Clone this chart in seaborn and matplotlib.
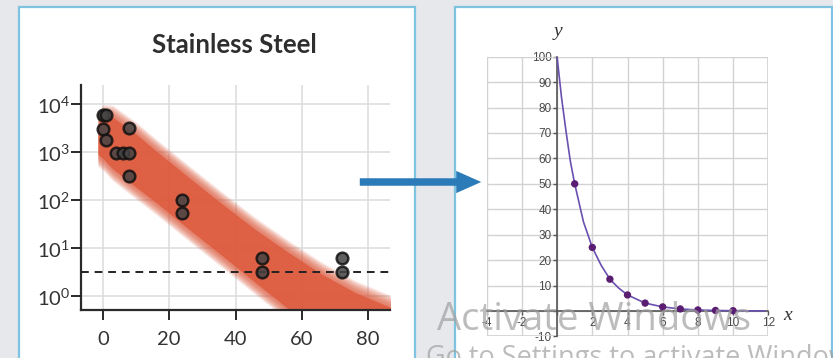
# Two-panel slide: stainless steel decay band (log scale) -> exponential decay on a grid

import numpy as np
import pandas as pd
import matplotlib.pyplot as plt
import seaborn as sns
from matplotlib.patches import Rectangle, FancyArrowPatch
from matplotlib.ticker import FixedLocator, NullLocator, FixedFormatter

# ---- left panel data ----
steel_x = [0, 1, 0, 1, 4, 6, 8, 8, 8, 24, 24, 48, 48, 72, 72]
steel_y = [5900, 5900, 3100, 1800, 980, 980, 980, 3200, 320, 100, 55, 6.1, 3.2, 6.1, 3.2]
threshold = 3.2

# edges of the red model band, as log10 values
band_x = [-1.5, 0, 3, 10, 16, 26, 36, 46, 56, 66, 76, 87]
band_hi_exp = [3.62, 3.80, 3.78, 3.43, 3.08, 2.52, 1.97, 1.44, 0.96, 0.51, 0.13, -0.19]
band_lo_exp = [2.90, 2.82, 2.60, 2.22, 1.90, 1.34, 0.79, 0.23, -0.32, -0.87, -1.42, -2.0]

steel_xticks = [0, 20, 40, 60, 80]
steel_yticks = [1, 10, 100, 1000, 10000]
steel_ylabels = ["10$^{0}$", "10$^{1}$", "10$^{2}$", "10$^{3}$", "10$^{4}$"]

# ---- right panel data ----
dot_x = [1, 2, 3, 4, 5, 6, 7, 8, 9, 10]
dot_y = [50, 25, 12.5, 6.3, 3.1, 1.6, 0.8, 0.4, 0.2, 0.1]
curve_x = [0, 0.25, 0.5, 0.75, 1, 1.5, 2, 2.5, 3, 3.5, 4, 5, 6, 7, 8, 9, 10, 11, 11.8]
curve_y = [100, 84, 71, 59, 50, 35, 25, 18, 12.5, 9, 6.3, 3.1, 1.6, 0.8, 0.4, 0.2, 0.1, 0.05, 0.03]

grid_xticks = [-4, -2, 0, 2, 4, 6, 8, 10, 12]
grid_xlabels = ["-4", "-2", "", "2", "4", "6", "8", "10", "12"]
grid_yticks = [-10, 0, 10, 20, 30, 40, 50, 60, 70, 80, 90, 100]
grid_ylabels = ["-10", "", "10", "20", "30", "40", "50", "60", "70", "80", "90", "100"]

sns.set_theme(style="white")
plt.rcParams["font.family"] = ["Lato", "DejaVu Sans"]
plt.rcParams["mathtext.fontset"] = "custom"
plt.rcParams["mathtext.rm"] = "Lato"

W, H = 833, 358
fig = plt.figure(figsize=(W / 100, H / 100), dpi=100)
fig.patch.set_facecolor("#e6e8eb")


def px_rect(x0, y0, x1, y1):
    # pixel box (top-left origin) -> figure fraction rect
    return [x0 / W, 1 - y1 / H, (x1 - x0) / W, (y1 - y0) / H]


# slide panels
for x0, x1 in [(19, 415), (455, 832)]:
    r = px_rect(x0, 7, x1, 370)
    fig.add_artist(Rectangle((r[0], r[1]), r[2], r[3], transform=fig.transFigure,
                             facecolor="white", edgecolor="#7fc3e3", lw=1.6, zorder=-5))

# ---- left chart ----
ax = fig.add_axes(px_rect(81, 85, 390, 310))
ax.set_facecolor("white")
ax.set_yscale("log")

red = "#dc5538"
lo = np.array(band_lo_exp)
hi = np.array(band_hi_exp)
# soft edge: stacked translucent layers, then the solid core
for d in np.linspace(0.2, 0.0, 9):
    ax.fill_between(band_x, 10 ** (lo - d), 10 ** (hi + d), color=red, alpha=0.12, lw=0, zorder=2)
ax.fill_between(band_x, 10 ** (lo + 0.05), 10 ** (hi - 0.05), color=red, alpha=0.75, lw=0, zorder=2)

ax.axhline(threshold, color="#222222", lw=1.4, ls=(0, (4, 3)), zorder=3)

steel = pd.DataFrame({"hours": steel_x, "count": steel_y})
sns.scatterplot(data=steel, x="hours", y="count", ax=ax, s=70, color="#444444",
                alpha=0.85, edgecolor="#111111", linewidth=1.8, zorder=4)

ax.set_xlim(-6.6, 86.6)
ax.set_ylim(10 ** -0.29, 10 ** 4.4)
ax.xaxis.set_major_locator(FixedLocator(steel_xticks))
ax.yaxis.set_major_locator(FixedLocator(steel_yticks))
ax.yaxis.set_major_formatter(FixedFormatter(steel_ylabels))
ax.yaxis.set_minor_locator(NullLocator())
ax.grid(True, color="#dedede", lw=1.2)
ax.set_axisbelow(True)
for s in ["top", "right"]:
    ax.spines[s].set_visible(False)
for s in ["left", "bottom"]:
    ax.spines[s].set_color("#2a2a2a")
    ax.spines[s].set_linewidth(1.6)
ax.tick_params(axis="both", which="major", direction="out", length=7, width=1.4,
               color="#2a2a2a", labelsize=14.5, labelcolor="#333333", left=True, bottom=True)
ax.tick_params(axis="x", pad=8)
ax.tick_params(axis="y", pad=1)
ax.set_xlabel("")
ax.set_ylabel("")

fig.text(234 / W, 1 - 45 / H, "Stainless Steel", ha="center", va="center",
         fontsize=18.5, fontweight="bold", color="#2e2e2e")

# ---- right chart ----
ax2 = fig.add_axes(px_rect(486.7, 56.7, 768.3, 336.4))
ax2.set_facecolor("white")
sns.lineplot(x=curve_x, y=curve_y, ax=ax2, color="#6a50b0", lw=1.2, sort=True, zorder=3)
sns.scatterplot(x=dot_x, y=dot_y, ax=ax2, s=28, color="#5a1d72", edgecolor="none", zorder=4)

ax2.set_xlim(-4, 12)
ax2.set_ylim(-10, 100)
ax2.xaxis.set_major_locator(FixedLocator(grid_xticks))
ax2.xaxis.set_major_formatter(FixedFormatter(grid_xlabels))
ax2.yaxis.set_major_locator(FixedLocator(grid_yticks))
ax2.yaxis.set_major_formatter(FixedFormatter(grid_ylabels))
ax2.grid(True, color="#d2d2d2", lw=1.0)
ax2.set_axisbelow(True)
ax2.spines["top"].set_visible(False)
ax2.spines["right"].set_visible(False)
ax2.spines["left"].set_position(("data", 0))
ax2.spines["bottom"].set_position(("data", 0))
for s in ["left", "bottom"]:
    ax2.spines[s].set_color("#555555")
    ax2.spines[s].set_linewidth(1.2)
    ax2.spines[s].set_zorder(2.5)
ax2.add_patch(Rectangle((0, 0), 1, 1, transform=ax2.transAxes, fill=False,
                        edgecolor="#d2d2d2", lw=1.2, zorder=1))
ax2.tick_params(axis="both", direction="out", length=3, width=1, color="#555555",
                labelsize=8.5, labelcolor="#4a4a4a", pad=1, left=True, bottom=True)
for lab in ax2.get_xticklabels() + ax2.get_yticklabels():
    lab.set_family("Liberation Sans")
ax2.set_xlabel("")
ax2.set_ylabel("")

fig.text(558 / W, 1 - 32 / H, "y", ha="center", va="center", fontsize=14,
         style="italic", family="Liberation Serif", color="#333333")
fig.text(788 / W, 1 - 315 / H, "x", ha="center", va="center", fontsize=14,
         style="italic", family="Liberation Serif", color="#333333")

# arrow between the panels
arrow = FancyArrowPatch((357, H - 182), (484, H - 182), transform=None,
                        arrowstyle="simple,head_length=0.9,head_width=0.8,tail_width=0.27",
                        mutation_scale=20, color="#2b7bb9", lw=0, zorder=6)
fig.add_artist(arrow)

# desktop watermark seen in the screenshot
fig.text(437 / W, 1 - 330 / H, "Activate Windows", fontsize=27.5, color="#a0a0a0",
         alpha=0.7, family="Open Sans", va="baseline", zorder=10)
fig.text(426 / W, 1 - 365 / H, "Go to Settings to activate Windows.", fontsize=19.5,
         color="#a0a0a0", alpha=0.7, family="Open Sans", va="baseline", zorder=10)

fig.savefig("out.png", dpi=100, facecolor=fig.get_facecolor())
